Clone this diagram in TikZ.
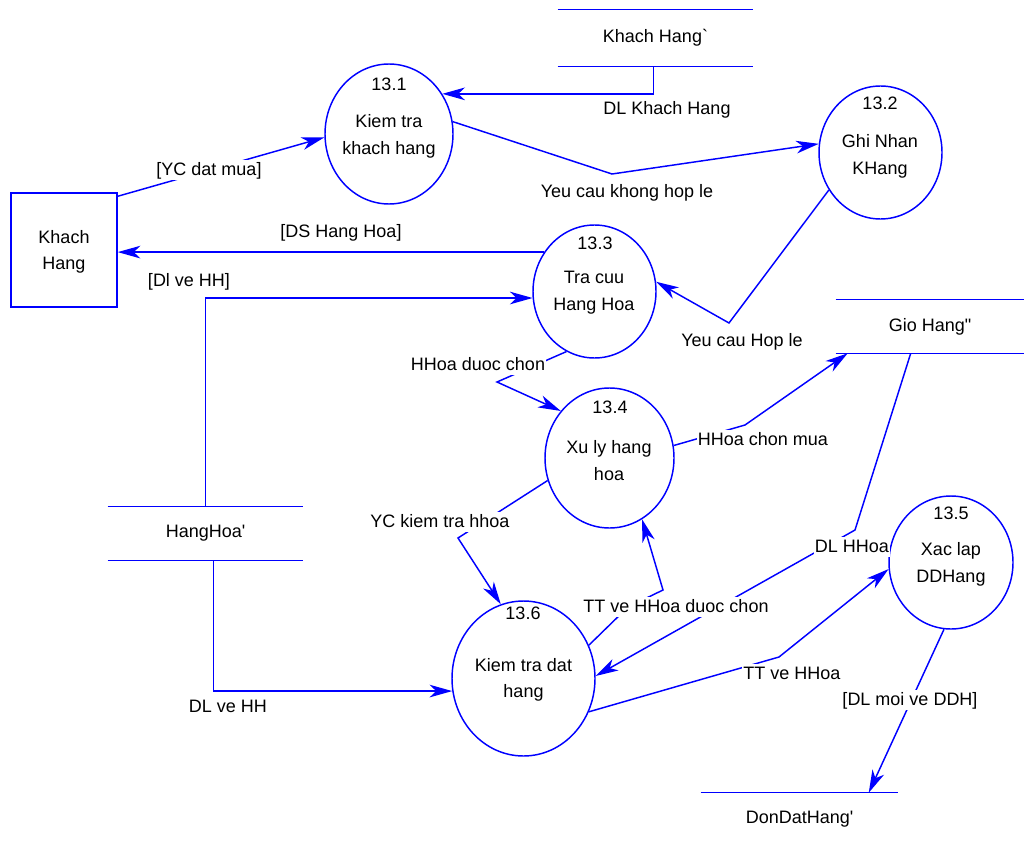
\documentclass[tikz,border=0pt]{standalone}
\usepackage{fontspec}
\setmainfont{Liberation Sans}[Ligatures=TeXOff]
\usetikzlibrary{arrows.meta,calc,shapes.geometric}
\definecolor{flowblue}{RGB}{0,0,255}
\begin{document}
\begin{tikzpicture}[x=0.75pt,y=-0.75pt,
  every node/.style={font=\fontsize{13.5pt}{20pt}\selectfont, text=black},
  proc/.style={ellipse, draw=flowblue, line width=1.1pt, inner sep=0pt},
  pname/.style={align=center, inner sep=0pt},
  extent/.style={rectangle, draw=flowblue, line width=1.1pt, inner sep=0pt, align=center},
  store/.style={inner sep=0pt, minimum width=146.25pt, minimum height=39.75pt},
  sline/.style={draw=flowblue, line width=1.1pt},
  flow/.style={draw=flowblue, line width=1.1pt, -{Stealth[length=17pt,width=9.5pt,inset=5pt]}},
  lbl/.style={fill=white, inner sep=1pt, text height=10.5pt, text depth=2.5pt}
]
\useasboundingbox (0,0) rectangle (1024,845);

% external entity
\node[extent, minimum width=79.5pt, minimum height=85.5pt] (kh) at (64,250) {};
\node[pname] at (64,252) {Khach\\Hang};

% processes
\node[proc, minimum width=96pt, minimum height=105pt] (p1) at (389,134) {};
\node at (389,84) {13.1};
\node[pname] at (389,136.5) {Kiem tra\\khach hang};

\node[proc, minimum width=92.25pt, minimum height=99.75pt] (p2) at (880.5,152.5) {};
\node at (880,103) {13.2};
\node[pname] at (880,156.5) {Ghi Nhan\\KHang};

\node[proc, minimum width=92.25pt, minimum height=99.75pt] (p3) at (594.5,291.5) {};
\node at (595,243) {13.3};
\node[pname] at (594,293) {Tra cuu\\Hang Hoa};

\node[proc, minimum width=96.75pt, minimum height=105pt] (p4) at (609.5,458) {};
\node at (610,407) {13.4};
\node[pname] at (609,460.5) {Xu ly hang\\hoa};

\node[proc, minimum width=93pt, minimum height=99.75pt] (p5) at (951,562.5) {};
\node at (951,513) {13.5};
\node[pname] at (951,564.5) {Xac lap\\DDHang};

\node[proc, minimum width=107.25pt, minimum height=116.25pt] (p6) at (523.5,678.5) {};
\node at (523,613) {13.6};
\node[pname] at (523.5,680) {Kiem tra dat\\hang};

% data stores
\node[store, minimum height=42pt] (sk) at (655.5,38) {Khach Hang`};
\draw[sline] (sk.north west) -- (sk.north east) (sk.south west) -- (sk.south east);

\node[store, minimum width=141pt] (sg) at (930,326.5) {Gio Hang"};
\draw[sline] (sg.north west) -- (sg.north east) (sg.south west) -- (sg.south east);

\node[store] (sh) at (205.5,533.5) {HangHoa'};
\draw[sline] (sh.north west) -- (sh.north east) (sh.south west) -- (sh.south east);

\node[store, minimum width=147.75pt, minimum height=39pt] (sd) at (799.5,819) {DonDatHang'};
\draw[sline] (sd.north west) -- (sd.north east);

% bends of the flows
\coordinate (e1) at (612,174);
\coordinate (e2) at (729,323);
\coordinate (e3) at (497,382);
\coordinate (e4) at (745,425);
\coordinate (e5) at (458,538);
\coordinate (e6a) at (628,607);
\coordinate (e6) at (663,590);
\coordinate (e7) at (855,530);
\coordinate (e8) at (779,657);

% data flows
\draw[flow] ($(kh.north east)+(0,4)$) -- (p1.183);
\draw[flow] ($(sk.south)+(-2,0)$) |- (p1.37);
\draw[flow] (p1.11) -- (e1) -- (p2.172);
\draw[flow] (p3.142) -- (kh.east |- p3.142);
\draw[flow] (sh.north) |- (p3.186);
\draw[flow] (p2.216) -- (e2) -- (p3.9);
\draw[flow] (p3.245) -- (e3) -- (p4.136);
\draw[flow] (p4.11) -- (e4) -- ($(sg.south west)+(12,0)$);
\draw[flow] (p4.200) -- (e5) -- (p6.107);
\draw[flow] (p6.27) -- (e6a) -- (e6) -- (p4.298);
\draw[flow] ($(sg.south west)+(75,0)$) -- (e7) -- (p6.2);
\draw[flow] (p6.333) -- (e8) -- (p5.186);
\draw[flow] (p5.264) -- ($(sd.north west)+(168,0)$);
\draw[flow] ($(sh.south)+(8,0)$) |- (p6.190);

% flow labels
\node[lbl] at (209,170) {[YC dat mua]};
\node[lbl] at (667,109) {DL Khach Hang};
\node[lbl] at (627,192) {Yeu cau khong hop le};
\node[lbl] at (341,232) {[DS Hang Hoa]};
\node[lbl] at (189,281) {[Dl ve HH]};
\node[lbl] at (742,341) {Yeu cau Hop le};
\node[lbl] at (478,365) {HHoa duoc chon};
\node[lbl] at (763,440) {HHoa chon mua};
\node[lbl] at (440,522) {YC kiem tra hhoa};
\node[lbl] at (852,547) {DL HHoa};
\node[lbl] at (676,607) {TT ve HHoa duoc chon};
\node[lbl] at (792,674) {TT ve HHoa};
\node[lbl] at (910,700) {[DL moi ve DDH]};
\node[lbl] at (228,707) {DL ve HH};
\end{tikzpicture}
\end{document}
